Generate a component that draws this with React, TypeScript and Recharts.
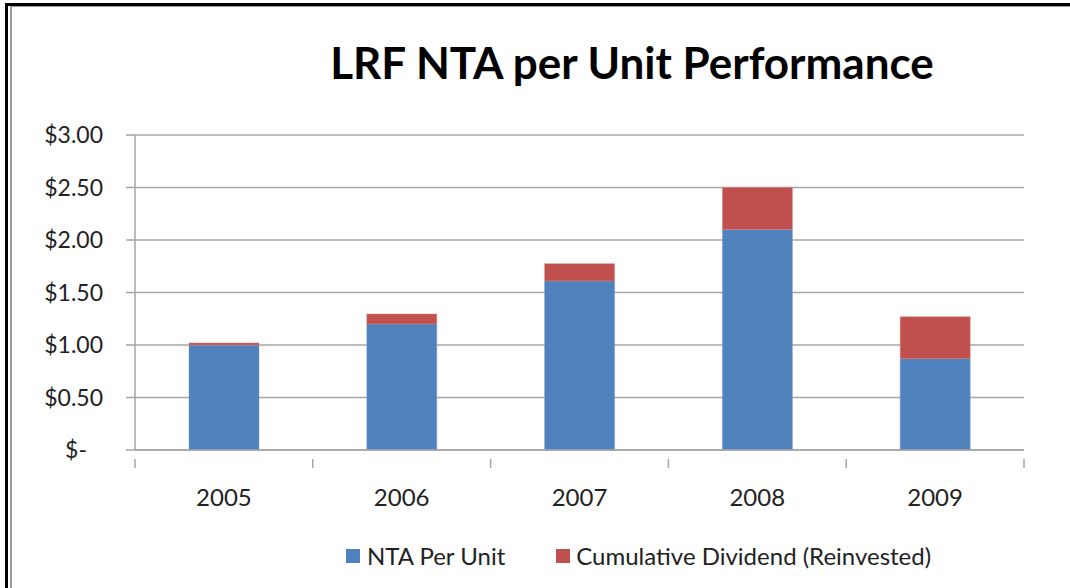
import { BarChart, Bar, XAxis, YAxis, CartesianGrid } from 'recharts';

const years = ['2005', '2006', '2007', '2008', '2009'];
const ntaPerUnit = [1.0, 1.2, 1.61, 2.1, 0.87];
const cumulativeDividend = [0.02, 0.095, 0.165, 0.4, 0.4];
const yTicks = [0, 0.5, 1, 1.5, 2, 2.5, 3];

const seriesNames = ['NTA Per Unit', 'Cumulative Dividend (Reinvested)'];
const BLUE = '#4F81BD';
const RED = '#C0504D';
const GRID = '#A6A6A6';
const FONT = 'Lato, "Open Sans", sans-serif';

const data = years.map((year, i) => ({
  year,
  nta: ntaPerUnit[i],
  dividend: cumulativeDividend[i],
}));

function formatDollar(v: number) {
  return v === 0 ? '$-' : `$${v.toFixed(2)}`;
}

function YTick(props: any) {
  const { x, y, payload } = props;
  const zero = payload.value === 0;
  return (
    <text x={x} y={y} dx={zero ? -16 : 0} dy="0.35em" textAnchor="end" fontSize={23} fill="#222" fontFamily={FONT}>
      {formatDollar(payload.value)}
    </text>
  );
}

// category label plus tick marks on the category boundaries (Excel style)
function XTick(props: any) {
  const { x, y, payload, index, width, visibleTicksCount } = props;
  const band = width / visibleTicksCount;
  const axisY = y - 30;
  return (
    <g>
      {index === 0 && <line x1={x - band / 2} x2={x - band / 2} y1={axisY} y2={axisY + 9} stroke={GRID} strokeWidth={1.5} />}
      <line x1={x + band / 2} x2={x + band / 2} y1={axisY} y2={axisY + 9} stroke={GRID} strokeWidth={1.5} />
      <text x={x} y={y} dy="0.71em" textAnchor="middle" fontSize={24} fill="#222" fontFamily={FONT}>
        {payload.value}
      </text>
    </g>
  );
}

export default function App() {
  return (
    <div style={{ position: 'fixed', left: 0, top: 0, width: 1070, height: 588, background: '#fff', overflow: 'hidden' }}>
      {/* picture frame, cropped on right and bottom */}
      <div style={{ position: 'absolute', left: 5, top: 3, right: -10, bottom: -10, borderLeft: '3px solid #000', borderTop: '3px solid #000' }} />
      <div style={{ position: 'absolute', left: 10, top: 6, right: -10, bottom: -10, borderLeft: '2px solid #999', borderTop: '1.5px solid #999' }} />

      <div
        style={{
          position: 'absolute',
          left: 0,
          width: 1264,
          top: 36,
          textAlign: 'center',
          fontFamily: FONT,
          fontWeight: 700,
          fontSize: 44,
          color: '#000',
        }}
      >
        LRF NTA per Unit Performance
      </div>

      <div style={{ position: 'absolute', left: 0, top: 0 }}>
        <BarChart width={1070} height={588} data={data} margin={{ top: 135, right: 46, bottom: 78, left: 0 }}>
          <CartesianGrid vertical={false} stroke={GRID} strokeWidth={1.5} />
          <XAxis
            dataKey="year"
            height={60}
            axisLine={{ stroke: GRID, strokeWidth: 1.5 }}
            tickLine={false}
            tickSize={9}
            tickMargin={30}
            tick={<XTick />}
            interval={0}
          />
          <YAxis
            width={135}
            domain={[0, 3]}
            ticks={yTicks}
            interval={0}
            tickSize={9}
            tickMargin={23}
            axisLine={{ stroke: GRID, strokeWidth: 1.5 }}
            tickLine={{ stroke: GRID, strokeWidth: 1.5 }}
            tick={<YTick />}
          />
          <Bar dataKey="nta" name={seriesNames[0]} stackId="a" fill={BLUE} stroke="#7A9FCF" strokeWidth={0.5} barSize={70} isAnimationActive={false} />
          <Bar dataKey="dividend" name={seriesNames[1]} stackId="a" fill={RED} stroke="#D98583" strokeWidth={0.5} barSize={70} isAnimationActive={false} />
        </BarChart>
      </div>

      {/* legend */}
      <div
        style={{
          position: 'absolute',
          left: 346,
          top: 541,
          display: 'flex',
          alignItems: 'center',
          fontFamily: FONT,
          fontSize: 24,
          color: '#222',
          whiteSpace: 'nowrap',
        }}
      >
        <span style={{ display: 'inline-block', width: 14, height: 14, background: BLUE, marginRight: 7 }} />
        <span style={{ marginRight: 51 }}>{seriesNames[0]}</span>
        <span style={{ display: 'inline-block', width: 14, height: 14, background: RED, marginRight: 6 }} />
        <span>{seriesNames[1]}</span>
      </div>
    </div>
  );
}
